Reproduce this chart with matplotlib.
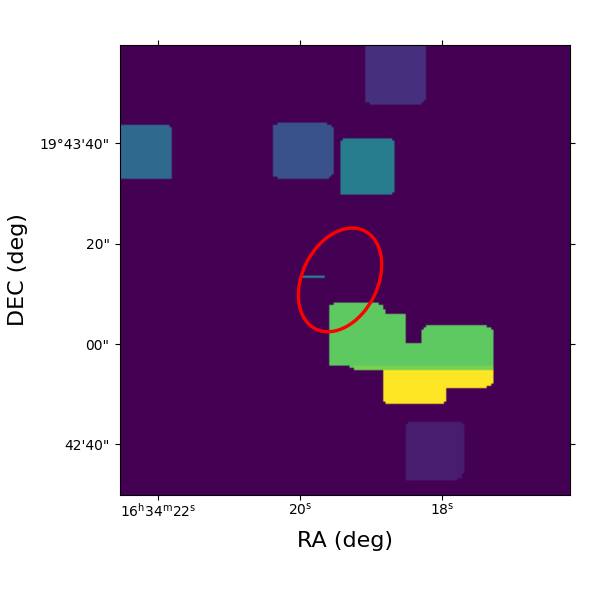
import numpy as np
import matplotlib
matplotlib.use("Agg")
import matplotlib.pyplot as plt
from matplotlib.patches import Ellipse

# Image values, footprints as (row0, row1, col0, col1) spans on a 200x200 grid (row 0 at top)
n_pix = 200
fp_top = [(0, 24, 109, 136), (24, 25, 109, 135), (25, 26, 111, 134)]
val_top = 0.14
fp_left = [(35, 36, 0, 22), (36, 59, 0, 23)]
val_left = 0.34
fp_mid = [(34, 35, 70, 92), (35, 36, 68, 94), (36, 57, 68, 95), (57, 58, 68, 94), (58, 59, 70, 93)]
val_mid = 0.25
fp_teal = [(41, 42, 99, 121), (42, 65, 98, 122), (65, 66, 98, 121)]
val_teal = 0.42
fp_low = [(167, 168, 128, 152), (168, 190, 127, 153), (190, 192, 127, 152), (192, 193, 127, 150)]
val_low = 0.08
fp_green = [(114, 115, 95, 115), (115, 117, 93, 117), (117, 119, 93, 118),
            (119, 120, 93, 127), (120, 124, 93, 127),
            (124, 125, 93, 127), (124, 125, 136, 163), (125, 126, 93, 127), (125, 126, 135, 165),
            (126, 132, 93, 127), (126, 132, 134, 166),
            (132, 142, 93, 166), (142, 143, 102, 104)]
val_green = 0.75
fp_strip = [(142, 143, 104, 166), (143, 144, 104, 166)]
val_strip = 0.80
fp_yellow = [(144, 150, 117, 166), (150, 151, 117, 165), (151, 152, 117, 163),
             (152, 158, 117, 145), (158, 159, 118, 144)]
val_yellow = 1.0
fp_line = [(102, 103, 81, 91)]
val_line = 0.45

# Region ellipse: centre (col, row), width, height, angle
ell_center = (97.8, 104.4)
ell_width, ell_height, ell_angle = 48.7, 33.5, -63.5

xtick_pos = [16.9, 80.0, 143.1]
xtick_lab = [r"16$^{\mathrm{h}}$34$^{\mathrm{m}}$22$^{\mathrm{s}}$", r"20$^{\mathrm{s}}$", r"18$^{\mathrm{s}}$"]
ytick_pos = [43.6, 88.4, 132.9, 177.4]
ytick_lab = ["19°43'40\"", "20\"", "00\"", "42'40\""]

# one extra row, the grid sits half a cell lower in the frame
img = np.zeros((n_pix + 1, n_pix))
for spans, v in [(fp_top, val_top), (fp_left, val_left), (fp_mid, val_mid), (fp_teal, val_teal),
                 (fp_low, val_low), (fp_green, val_green), (fp_strip, val_strip),
                 (fp_yellow, val_yellow), (fp_line, val_line)]:
    for r0, r1, c0, c1 in spans:
        img[r0 + 1:r1 + 1, c0:c1] = v
img[0] = img[1]

fig = plt.figure(figsize=(6, 6), dpi=100)
ax = fig.add_axes([0.2, 0.175, 0.75, 0.75])
ax.imshow(img, cmap="viridis", vmin=0, vmax=1, origin="upper",
          extent=(0, n_pix, n_pix + 0.5, -0.5), aspect="equal")
ax.set_xlim(0, n_pix)
ax.set_ylim(n_pix, 0)
ax.add_patch(Ellipse(ell_center, ell_width, ell_height, angle=ell_angle, fill=False, edgecolor="red", linewidth=2.4))

ax.set_xticks(xtick_pos)
ax.set_xticklabels(xtick_lab, fontsize=10)
ax.set_yticks(ytick_pos)
ax.set_yticklabels(ytick_lab, fontsize=10, va="center_baseline")
ax.tick_params(top=True, right=True, direction="out")
ax.tick_params(axis="x", pad=1.5)
ax.tick_params(axis="y", pad=4)
ax.set_xlabel("RA (deg)", fontsize=16, labelpad=8)
ax.set_ylabel("DEC (deg)", fontsize=16, labelpad=8)
fig.savefig("out.png", dpi=100)
